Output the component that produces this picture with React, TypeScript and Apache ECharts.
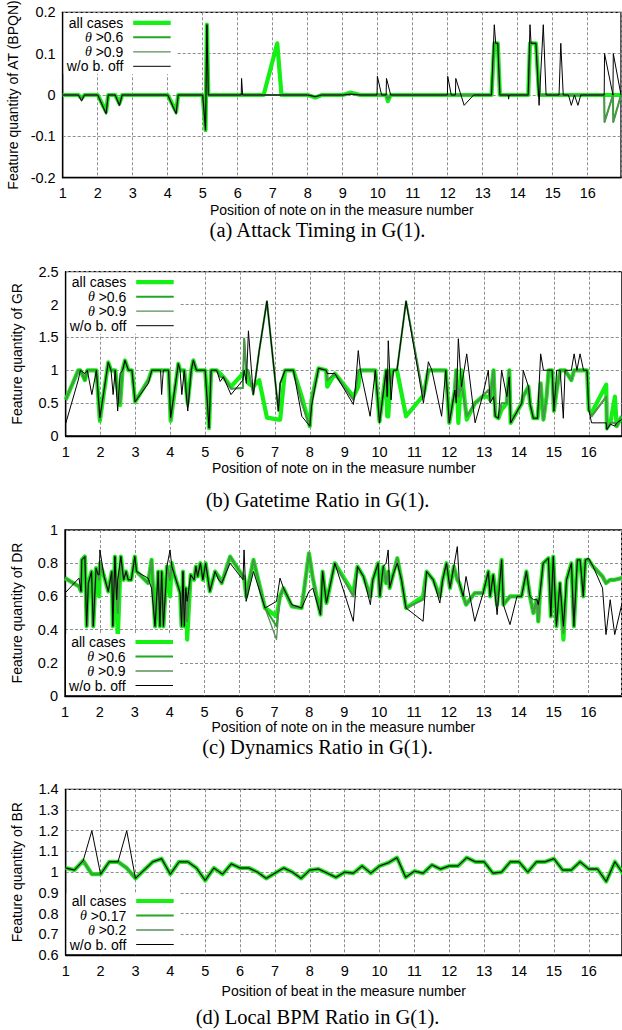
import React, { useEffect, useRef } from "react";
import * as echarts from "echarts";

// ---------- DATA ----------
// columns: [position, all cases, theta>a, theta>b, w/o b. off]
const AT_ROWS: number[][] = [
  [1.0, 0, 0, 0, 0], [1.45, 0, 0, 0, 0], [1.54, -0.008, -0.01, -0.01, -0.015], [1.62, 0, 0, 0, 0],
  [2.0, 0, 0, 0, 0], [2.24, -0.04, -0.045, -0.045, -0.045], [2.3, 0, 0, 0, 0], [2.5, 0, 0, 0, 0],
  [2.62, -0.02, -0.025, -0.025, -0.025], [2.7, 0, 0, 0, 0], [4.0, 0, 0, 0, 0],
  [4.24, -0.04, -0.045, -0.045, -0.045], [4.3, 0, 0, 0, 0], [5.0, 0, 0, 0, 0],
  [5.08, -0.085, -0.085, -0.085, -0.085], [5.12, 0.17, 0.17, 0.17, 0.17], [5.16, 0, 0, 0, 0],
  [6.1, 0, 0, 0, 0], [6.11, 0, 0, 0, 0.04], [6.14, 0, 0, 0, 0], [6.74, 0, 0, 0, 0],
  [7.13, 0.125, 0, 0, 0], [7.25, 0, 0, 0, 0], [8.0, 0, 0, 0, 0], [8.22, -0.006, -0.004, -0.004, -0.004],
  [8.4, 0, 0, 0, 0], [9.0, 0, 0, 0, 0], [9.23, 0.006, 0.003, 0.003, 0.002], [9.5, 0, 0, 0, 0],
  [9.98, 0, 0, 0, 0], [9.99, 0, 0, 0, 0.045], [10.11, 0, 0, 0, 0], [10.24, 0, 0, 0, 0],
  [10.25, 0, 0, 0, 0.04], [10.29, -0.015, -0.01, -0.01, 0.027], [10.37, 0, 0, 0, 0],
  [11.99, 0, 0, 0, 0], [12.0, 0, 0, 0, 0.045], [12.1, 0, 0, 0, 0], [12.22, 0, 0, 0, 0],
  [12.23, 0, 0, 0, 0.04], [12.47, 0, 0, 0, -0.025], [12.74, 0, 0, 0, 0], [13.25, 0, 0, 0, 0],
  [13.33, 0.125, 0.125, 0.125, 0.17], [13.37, 0.125, 0.125, 0.125, 0.125], [13.43, 0.125, 0.125, 0.125, 0.125],
  [13.49, 0, 0, 0, 0], [13.73, 0, 0, 0, 0], [13.74, 0, 0, 0, -0.01], [13.75, 0, 0, 0, 0],
  [14.3, 0, 0, 0, 0], [14.35, 0.125, 0.125, 0.125, 0.17], [14.38, 0.125, 0.125, 0.125, 0.125],
  [14.52, 0.125, 0.125, 0.125, 0.125], [14.61, 0, 0, 0, -0.025], [14.73, 0, 0, 0, 0.17],
  [14.81, 0, 0, 0, 0], [15.18, 0, 0, 0, 0], [15.23, 0, 0, 0, 0.125], [15.3, 0, 0, 0, 0],
  [15.45, 0, 0, 0, 0], [15.53, 0, 0, 0, -0.025], [15.62, 0, 0, 0, 0], [15.72, 0, 0, 0, -0.025],
  [15.8, 0, 0, 0, 0], [16.47, 0, 0, 0, 0], [16.48, 0, -0.065, -0.065, 0.1], [16.72, 0, 0, 0, 0],
  [16.73, 0, -0.065, -0.065, 0.1], [16.95, 0, 0, 0, 0],
];

const GR_ROWS: number[][] = [
  [1.0, 0.55, 0.55, 0.55, 0.19], [1.36, 1.0, 1.0, 1.0, 0.85], [1.42, 1.0, 1.0, 1.0, 1.0],
  [1.55, 0.85, 0.85, 0.9, 0.95], [1.62, 1.0, 1.0, 1.0, 1.0], [1.75, 1.0, 1.0, 1.0, 0.63],
  [1.88, 1.0, 1.0, 1.0, 1.0], [1.98, 0.23, 0.25, 0.25, 0.28], [2.22, 1.12, 1.12, 1.12, 1.12],
  [2.3, 1.0, 1.0, 1.0, 1.0], [2.36, 1.0, 1.0, 1.0, 0.63], [2.42, 1.0, 1.0, 1.0, 1.0],
  [2.49, 0.7, 0.6, 0.6, 0.38], [2.56, 0.47, 0.5, 0.5, 0.95], [2.63, 1.0, 1.0, 1.0, 1.0],
  [2.7, 1.15, 1.15, 1.15, 1.15], [2.8, 1.0, 1.0, 1.0, 1.0], [2.9, 1.0, 1.0, 1.0, 1.0],
  [2.99, 0.52, 0.52, 0.52, 0.52], [3.37, 0.85, 0.85, 0.85, 0.8], [3.47, 1.0, 1.0, 1.0, 1.0],
  [3.72, 1.0, 1.0, 1.0, 1.0], [3.75, 1.0, 1.0, 1.0, 0.63], [3.8, 1.0, 1.0, 1.0, 1.0],
  [3.95, 1.0, 1.0, 1.0, 1.0], [4.01, 0.23, 0.25, 0.25, 0.28], [4.23, 1.1, 1.1, 1.1, 1.1],
  [4.28, 1.0, 1.0, 1.0, 1.0], [4.33, 1.0, 1.0, 1.0, 0.63], [4.4, 1.0, 1.0, 1.0, 1.0],
  [4.5, 0.5, 0.45, 0.45, 0.38], [4.6, 1.0, 1.0, 1.0, 1.0], [4.66, 1.15, 1.15, 1.15, 1.15],
  [4.75, 1.0, 1.0, 1.0, 1.0], [5.0, 1.0, 1.0, 1.0, 1.0], [5.11, 0.12, 0.12, 0.12, 0.12],
  [5.17, 1.0, 1.0, 1.0, 1.0], [5.33, 1.0, 1.0, 1.0, 1.0], [5.43, 0.95, 0.9, 0.9, 0.83],
  [5.52, 0.9, 0.9, 0.9, 0.9], [5.74, 0.75, 0.72, 0.72, 0.63], [6.08, 0.95, 0.73, 0.73, 0.85],
  [6.12, 0.95, 1.48, 1.48, 1.0], [6.18, 1.0, 1.0, 1.0, 0.8], [6.24, 0.8, 1.0, 1.0, 1.6],
  [6.38, 0.75, 0.63, 0.63, 0.63], [6.55, 0.85, 1.3, 1.3, 1.3], [6.77, 0.28, 2.05, 2.05, 2.05],
  [7.1, 0.25, 0.38, 0.38, 0.38], [7.15, 0.25, 0.8, 0.8, 0.8], [7.29, 1.0, 1.0, 1.0, 1.0],
  [7.53, 1.0, 1.0, 1.0, 1.0], [7.77, 0.6, 0.5, 0.5, 0.3], [8.0, 0.15, 0.15, 0.15, 0.15],
  [8.05, 0.55, 0.55, 0.55, 0.45], [8.25, 1.03, 1.03, 1.03, 1.03], [8.47, 1.0, 1.0, 1.0, 1.0],
  [8.5, 0.75, 0.85, 0.85, 0.95], [8.72, 0.95, 0.95, 0.95, 0.95], [9.25, 0.6, 0.55, 0.55, 0.48],
  [9.3, 0.65, 0.65, 0.65, 0.7], [9.39, 0.75, 1.0, 1.0, 1.3], [9.45, 1.0, 1.0, 1.0, 1.0],
  [9.73, 1.0, 1.0, 1.0, 0.3], [9.88, 1.0, 1.0, 1.0, 1.0], [9.94, 0.6, 0.6, 0.6, 0.6],
  [10.0, 0.22, 0.22, 0.22, 0.2], [10.19, 1.0, 1.0, 1.0, 1.0], [10.22, 0.3, 0.6, 0.6, 0.6],
  [10.25, 0.3, 1.0, 1.0, 1.45], [10.33, 1.0, 0.8, 0.8, 0.55], [10.4, 1.0, 1.0, 1.0, 1.0],
  [10.5, 1.0, 1.0, 1.0, 1.0], [10.76, 0.3, 2.05, 2.05, 2.05], [11.26, 0.62, 0.6, 0.6, 0.5],
  [11.4, 1.0, 1.0, 1.0, 1.13], [11.5, 1.0, 1.0, 1.0, 1.0], [11.78, 1.0, 1.0, 1.0, 0.3],
  [11.9, 1.0, 1.0, 1.0, 1.0], [12.0, 0.2, 0.2, 0.2, 0.2], [12.16, 0.7, 0.7, 0.7, 0.7],
  [12.2, 1.0, 1.0, 1.0, 0.5], [12.26, 0.2, 0.6, 0.6, 1.48], [12.35, 1.0, 0.8, 0.8, 0.75],
  [12.5, 0.25, 0.3, 0.3, 1.25], [12.74, 0.5, 0.5, 0.5, 0.2], [12.95, 0.6, 0.6, 0.6, 0.6],
  [13.12, 0.6, 0.7, 0.7, 1.0], [13.17, 0.55, 0.55, 0.55, 0.5], [13.27, 1.0, 1.0, 1.0, 0.6],
  [13.32, 0.3, 0.3, 0.3, 0.3], [13.41, 0.27, 0.27, 0.27, 0.27], [13.5, 0.4, 0.5, 0.5, 1.0],
  [13.65, 0.5, 0.5, 0.5, 0.6], [13.72, 1.0, 1.0, 1.0, 0.9], [13.76, 0.2, 0.2, 0.2, 0.2],
  [14.08, 0.5, 0.5, 0.5, 0.5], [14.12, 0.6, 0.6, 0.6, 1.0], [14.27, 0.75, 0.75, 0.75, 0.75],
  [14.32, 0.48, 0.48, 0.48, 0.48], [14.41, 0.27, 0.27, 0.27, 0.27], [14.53, 0.27, 0.27, 0.27, 0.27],
  [14.62, 0.8, 0.8, 0.8, 1.25], [14.7, 0.25, 0.25, 0.25, 1.0], [14.79, 0.6, 0.6, 0.6, 1.0],
  [14.85, 1.0, 1.0, 1.0, 1.0], [14.95, 1.0, 1.0, 1.0, 1.0], [15.0, 0.38, 0.38, 0.38, 0.38],
  [15.08, 0.7, 0.7, 0.7, 1.0], [15.18, 1.0, 1.0, 1.0, 1.0], [15.27, 1.0, 1.0, 1.0, 0.27],
  [15.32, 1.0, 1.0, 1.0, 1.0], [15.5, 0.85, 0.85, 0.85, 1.0], [15.58, 1.0, 1.0, 1.0, 1.25],
  [15.66, 1.0, 1.0, 1.0, 1.0], [15.75, 1.0, 1.0, 1.0, 1.25], [15.85, 1.0, 1.0, 1.0, 1.0],
  [15.95, 1.0, 1.0, 1.0, 1.0], [16.0, 0.4, 0.4, 0.4, 0.4], [16.08, 0.35, 0.3, 0.3, 0.2],
  [16.5, 0.78, 0.6, 0.6, 0.2], [16.52, 0.12, 0.1, 0.1, 0.1], [16.62, 0.2, 0.2, 0.2, 0.18],
  [16.75, 0.6, 0.2, 0.2, 0.15], [16.8, 0.15, 0.15, 0.15, 0.2], [16.95, 0.3, 0.3, 0.3, 0.25],
];

const DR_ROWS: number[][] = [
  [1.0, 0.71, 0.71, 0.71, 0.62], [1.4, 0.66, 0.66, 0.66, 0.71], [1.46, 0.63, 0.63, 0.63, 0.63],
  [1.48, 0.82, 0.82, 0.82, 0.82], [1.57, 0.84, 0.84, 0.84, 0.84], [1.62, 0.42, 0.42, 0.42, 0.42],
  [1.67, 0.68, 0.68, 0.68, 0.68], [1.76, 0.75, 0.75, 0.75, 0.75], [1.81, 0.42, 0.42, 0.42, 0.42],
  [1.89, 0.77, 0.77, 0.77, 0.77], [1.95, 0.73, 0.73, 0.73, 0.73], [1.98, 0.6, 0.7, 0.7, 0.73],
  [2.0, 0.8, 0.8, 0.8, 0.88], [2.12, 0.72, 0.72, 0.72, 0.72], [2.24, 0.63, 0.63, 0.63, 0.63],
  [2.34, 0.75, 0.75, 0.75, 0.75], [2.37, 0.42, 0.42, 0.42, 0.42], [2.43, 0.84, 0.84, 0.84, 0.84],
  [2.48, 0.6, 0.6, 0.6, 0.58], [2.51, 0.34, 0.5, 0.5, 0.7], [2.6, 0.84, 0.84, 0.84, 0.84],
  [2.68, 0.7, 0.7, 0.7, 0.7], [2.75, 0.75, 0.75, 0.75, 0.75], [2.81, 0.7, 0.7, 0.7, 0.7],
  [2.9, 0.7, 0.7, 0.7, 0.7], [3.0, 0.84, 0.84, 0.84, 0.84], [3.05, 0.75, 0.75, 0.75, 0.75],
  [3.38, 0.68, 0.68, 0.68, 0.71], [3.48, 0.82, 0.82, 0.82, 0.65], [3.58, 0.42, 0.42, 0.42, 0.42],
  [3.67, 0.75, 0.75, 0.75, 0.75], [3.72, 0.42, 0.42, 0.42, 0.42], [3.77, 0.75, 0.75, 0.75, 0.75],
  [3.82, 0.42, 0.42, 0.42, 0.42], [3.92, 0.78, 0.78, 0.78, 0.78], [4.01, 0.6, 0.7, 0.7, 0.88],
  [4.06, 0.8, 0.8, 0.8, 0.78], [4.12, 0.74, 0.74, 0.74, 0.74], [4.3, 0.62, 0.62, 0.62, 0.62],
  [4.34, 0.42, 0.42, 0.42, 0.42], [4.38, 0.75, 0.75, 0.75, 0.75], [4.42, 0.42, 0.42, 0.42, 0.42],
  [4.46, 0.65, 0.65, 0.65, 0.65], [4.5, 0.34, 0.45, 0.45, 0.57], [4.6, 0.73, 0.73, 0.73, 0.73],
  [4.7, 0.7, 0.7, 0.7, 0.7], [4.75, 0.78, 0.78, 0.78, 0.78], [4.8, 0.72, 0.72, 0.72, 0.72],
  [4.88, 0.8, 0.8, 0.8, 0.8], [4.95, 0.7, 0.7, 0.7, 0.7], [5.03, 0.8, 0.8, 0.8, 0.8],
  [5.15, 0.63, 0.63, 0.63, 0.63], [5.3, 0.75, 0.75, 0.75, 0.75], [5.4, 0.72, 0.72, 0.72, 0.7],
  [5.49, 0.68, 0.68, 0.68, 0.68], [5.73, 0.84, 0.84, 0.84, 0.8], [6.1, 0.72, 0.72, 0.72, 0.7],
  [6.13, 0.72, 0.72, 0.72, 0.88], [6.19, 0.6, 0.6, 0.6, 0.57], [6.4, 0.82, 0.82, 0.82, 0.75],
  [6.73, 0.53, 0.53, 0.53, 0.53], [7.06, 0.48, 0.42, 0.34, 0.57], [7.16, 0.6, 0.6, 0.6, 0.71],
  [7.26, 0.65, 0.65, 0.65, 0.65], [7.5, 0.54, 0.54, 0.54, 0.55], [7.78, 0.53, 0.53, 0.53, 0.53],
  [7.99, 0.86, 0.86, 0.86, 0.63], [8.1, 0.71, 0.71, 0.71, 0.65], [8.32, 0.49, 0.49, 0.49, 0.49],
  [8.38, 0.75, 0.75, 0.75, 0.75], [8.49, 0.56, 0.56, 0.56, 0.56], [8.73, 0.8, 0.8, 0.8, 0.8],
  [9.26, 0.62, 0.6, 0.6, 0.45], [9.38, 0.78, 0.78, 0.78, 0.78], [9.55, 0.72, 0.72, 0.72, 0.72],
  [9.75, 0.6, 0.6, 0.6, 0.55], [9.82, 0.7, 0.7, 0.7, 0.7], [9.97, 0.8, 0.8, 0.8, 0.8],
  [10.02, 0.6, 0.6, 0.6, 0.6], [10.12, 0.78, 0.78, 0.78, 0.78], [10.2, 0.68, 0.68, 0.68, 0.8],
  [10.26, 0.75, 0.75, 0.75, 0.88], [10.3, 0.65, 0.65, 0.65, 0.65], [10.4, 0.73, 0.73, 0.73, 0.73],
  [10.52, 0.83, 0.83, 0.83, 0.8], [10.64, 0.7, 0.7, 0.7, 0.7], [10.77, 0.53, 0.53, 0.53, 0.53],
  [11.26, 0.6, 0.58, 0.58, 0.45], [11.36, 0.75, 0.75, 0.75, 0.75], [11.55, 0.7, 0.7, 0.7, 0.7],
  [11.74, 0.6, 0.6, 0.6, 0.56], [11.82, 0.7, 0.7, 0.7, 0.7], [11.93, 0.8, 0.8, 0.8, 0.8],
  [12.03, 0.65, 0.65, 0.65, 0.65], [12.14, 0.78, 0.78, 0.78, 0.78], [12.24, 0.7, 0.7, 0.7, 0.9],
  [12.3, 0.68, 0.68, 0.68, 0.68], [12.41, 0.6, 0.6, 0.6, 0.6], [12.49, 0.55, 0.55, 0.55, 0.72],
  [12.74, 0.62, 0.62, 0.62, 0.45], [12.98, 0.62, 0.62, 0.62, 0.62], [13.13, 0.75, 0.75, 0.75, 0.75],
  [13.18, 0.6, 0.6, 0.6, 0.6], [13.27, 0.73, 0.73, 0.73, 0.73], [13.38, 0.55, 0.55, 0.55, 0.49],
  [13.51, 0.82, 0.82, 0.82, 0.82], [13.56, 0.55, 0.55, 0.55, 0.55], [13.75, 0.6, 0.6, 0.6, 0.43],
  [13.95, 0.6, 0.6, 0.6, 0.6], [14.08, 0.6, 0.6, 0.6, 0.6], [14.22, 0.75, 0.75, 0.75, 0.75],
  [14.32, 0.6, 0.6, 0.6, 0.6], [14.42, 0.5, 0.5, 0.5, 0.58], [14.52, 0.58, 0.58, 0.58, 0.58],
  [14.56, 0.45, 0.45, 0.45, 0.55], [14.61, 0.62, 0.62, 0.62, 0.62], [14.7, 0.8, 0.8, 0.8, 0.8],
  [14.85, 0.83, 0.83, 0.83, 0.83], [14.92, 0.48, 0.48, 0.48, 0.48], [14.99, 0.84, 0.84, 0.84, 0.84],
  [15.08, 0.42, 0.42, 0.42, 0.42], [15.18, 0.68, 0.68, 0.68, 0.68], [15.28, 0.34, 0.38, 0.38, 0.42],
  [15.37, 0.7, 0.7, 0.7, 0.7], [15.51, 0.8, 0.8, 0.8, 0.8], [15.58, 0.42, 0.42, 0.42, 0.42],
  [15.68, 0.82, 0.82, 0.82, 0.82], [15.76, 0.82, 0.82, 0.82, 0.82], [15.85, 0.6, 0.6, 0.6, 0.6],
  [15.91, 0.82, 0.82, 0.82, 0.82], [16.0, 0.82, 0.82, 0.82, 0.83], [16.13, 0.78, 0.78, 0.78, 0.78],
  [16.4, 0.72, 0.72, 0.72, 0.65], [16.5, 0.68, 0.68, 0.68, 0.37], [16.62, 0.7, 0.7, 0.7, 0.58],
  [16.75, 0.7, 0.7, 0.7, 0.37], [16.95, 0.71, 0.71, 0.71, 0.55],
];

const BR_ROWS: number[][] = [
  [1.0, 1.02, 1.02, 1.02, 1.02], [1.25, 1.01, 1.01, 1.01, 1.01], [1.5, 1.055, 1.055, 1.055, 1.055],
  [1.75, 0.99, 0.99, 0.99, 1.2], [2.0, 0.99, 0.99, 0.99, 0.99], [2.25, 1.05, 1.05, 1.05, 1.05],
  [2.5, 1.05, 1.05, 1.05, 1.05], [2.75, 1.02, 1.02, 1.02, 1.2], [3.0, 0.97, 0.97, 0.97, 0.97],
  [3.25, 1.01, 1.01, 1.01, 1.01], [3.5, 1.05, 1.05, 1.05, 1.05], [3.75, 1.065, 1.065, 1.065, 1.065],
  [4.0, 0.99, 0.99, 0.99, 0.99], [4.25, 1.05, 1.05, 1.05, 1.05], [4.5, 1.05, 1.05, 1.05, 1.05],
  [4.75, 1.02, 1.02, 1.02, 1.02], [5.0, 0.96, 0.96, 0.96, 0.96], [5.25, 1.02, 1.02, 1.02, 1.02],
  [5.5, 0.99, 0.99, 0.99, 0.99], [5.75, 1.04, 1.04, 1.04, 1.04], [6.0, 1.02, 1.02, 1.02, 1.02],
  [6.25, 1.02, 1.02, 1.02, 1.02], [6.5, 1.0, 1.0, 1.0, 1.0], [6.75, 0.97, 0.97, 0.97, 0.97],
  [7.0, 0.995, 0.995, 0.995, 0.995], [7.25, 1.02, 1.02, 1.02, 1.02], [7.5, 1.0, 1.0, 1.0, 1.0],
  [7.75, 0.97, 0.97, 0.97, 0.97], [8.0, 1.01, 1.01, 1.01, 1.01], [8.25, 1.015, 1.015, 1.015, 1.015],
  [8.5, 0.995, 0.995, 0.995, 0.995], [8.75, 0.975, 0.975, 0.975, 0.975], [9.0, 1.0, 1.0, 1.0, 1.0],
  [9.25, 0.995, 0.995, 0.995, 0.995], [9.5, 1.03, 1.03, 1.03, 1.03], [9.75, 0.995, 0.995, 0.995, 0.995],
  [10.0, 1.03, 1.03, 1.03, 1.03], [10.25, 1.045, 1.045, 1.045, 1.045], [10.5, 1.07, 1.07, 1.07, 1.07],
  [10.75, 0.975, 0.975, 0.975, 0.975], [11.0, 1.005, 1.005, 1.005, 1.005], [11.25, 0.995, 0.995, 0.995, 0.995],
  [11.5, 1.035, 1.035, 1.035, 1.035], [11.75, 1.015, 1.015, 1.015, 1.015], [12.0, 1.03, 1.03, 1.03, 1.03],
  [12.25, 1.03, 1.03, 1.03, 1.03], [12.5, 1.07, 1.07, 1.07, 1.07], [12.75, 1.05, 1.05, 1.05, 1.05],
  [13.0, 1.05, 1.05, 1.05, 1.05], [13.25, 0.995, 0.995, 0.995, 0.995], [13.5, 1.0, 1.0, 1.0, 1.0],
  [13.75, 1.05, 1.05, 1.05, 1.05], [14.0, 1.05, 1.05, 1.05, 1.05], [14.25, 1.0, 1.0, 1.0, 1.0],
  [14.5, 1.05, 1.05, 1.05, 1.05], [14.75, 1.05, 1.05, 1.05, 1.05], [15.0, 1.065, 1.065, 1.065, 1.065],
  [15.25, 1.01, 1.01, 1.01, 1.01], [15.5, 1.01, 1.01, 1.01, 1.01], [15.75, 1.05, 1.05, 1.05, 1.05],
  [16.0, 1.015, 1.015, 1.015, 1.015], [16.25, 1.015, 1.015, 1.015, 1.015], [16.5, 0.955, 0.955, 0.955, 0.955],
  [16.75, 1.05, 1.05, 1.05, 1.05], [17.0, 0.99, 0.99, 0.99, 0.99],
];

const LEGEND_NOTE = ["all cases", "θ|0.6", "θ|0.9", "w/o b. off"];
const LEGEND_BEAT = ["all cases", "θ|0.17", "θ|0.2", "w/o b. off"];

const X_TICK_MIN = 1;
const X_TICK_MAX = 16.95;

// ---------- STYLE ----------
const SANS = "Liberation Sans";
const SERIF = "Liberation Serif";
const SERIES_STYLE = [
  { color: "#14f014", width: 4.2 },
  { color: "#22a822", width: 2 },
  { color: "#5a8f5a", width: 1.3 },
  { color: "#000000", width: 1 },
];

const PANELS = [
  {
    rows: AT_ROWS, yMin: -0.2, yMax: 0.2, yInt: 0.1,
    yName: "Feature quantity of AT (BPQN)", xName: "Position of note on in the measure number",
    caption: "(a) Attack Timing in G(1).", legend: LEGEND_NOTE, legendPos: "top",
    grid: { left: 62.7, top: 12.3, width: 558.3, height: 165.4 }, nameGap: 25, captionY: 230,
  },
  {
    rows: GR_ROWS, yMin: 0, yMax: 2.5, yInt: 0.5,
    yName: "Feature quantity of GR", xName: "Position of note on in the measure number",
    caption: "(b) Gatetime Ratio in G(1).", legend: LEGEND_NOTE, legendPos: "top",
    grid: { left: 65.7, top: 271.7, width: 556.2, height: 164.3 }, nameGap: 25, captionY: 500,
  },
  {
    rows: DR_ROWS, yMin: 0, yMax: 1, yInt: 0.2,
    yName: "Feature quantity of DR", xName: "Position of note on in the measure number",
    caption: "(c) Dynamics Ratio in G(1).", legend: LEGEND_NOTE, legendPos: "bottom",
    grid: { left: 65, top: 530, width: 556.7, height: 166 }, nameGap: 23, captionY: 747,
  },
  {
    rows: BR_ROWS, yMin: 0.6, yMax: 1.4, yInt: 0.1,
    yName: "Feature quantity of BR", xName: "Position of beat in the measure number",
    caption: "(d) Local BPM Ratio in G(1).", legend: LEGEND_BEAT, legendPos: "bottom",
    grid: { left: 65.7, top: 789.3, width: 556.2, height: 165.7 }, nameGap: 29, captionY: 1017,
  },
];

function buildOption() {
  const grid: any[] = [];
  const xAxis: any[] = [];
  const yAxis: any[] = [];
  const series: any[] = [];
  const graphic: any[] = [];

  PANELS.forEach((p, i) => {
    grid.push({
      ...p.grid, show: true, borderColor: "#000", borderWidth: 1.3,
      backgroundColor: "rgba(0,0,0,0)", containLabel: false, outerBoundsMode: "none",
    });
    const mkSplit = () => ({ show: true, lineStyle: { color: "#8f8f8f", type: [3, 2], width: 1 } });
    xAxis.push({
      type: "value", gridIndex: i, min: X_TICK_MIN, max: X_TICK_MAX, interval: 1, z: 1,
      axisLine: { show: true, onZero: false, lineStyle: { color: "#000", width: 1.3 } },
      axisTick: { show: false },
      axisLabel: {
        color: "#000", fontFamily: SANS, fontSize: 14.5, margin: 8,
        formatter: (v: number) => (Math.abs(v - Math.round(v)) < 1e-6 ? String(Math.round(v)) : ""),
      },
      splitLine: mkSplit(),
      name: p.xName, nameLocation: "middle", nameGap: p.nameGap,
      nameTextStyle: { color: "#000", fontFamily: SANS, fontSize: 14 },
    });
    yAxis.push({
      type: "value", gridIndex: i, min: p.yMin, max: p.yMax, interval: p.yInt, z: 1,
      axisLine: { show: true, onZero: false, lineStyle: { color: "#000", width: 1.3 } },
      axisTick: { show: false },
      axisLabel: { color: "#000", fontFamily: SANS, fontSize: 14.5, margin: 7 },
      splitLine: mkSplit(),
      name: p.yName, nameLocation: "middle", nameGap: p.grid.left - 24,
      nameTextStyle: { color: "#000", fontFamily: SANS, fontSize: 14 },
    });
    SERIES_STYLE.forEach((s, k) => {
      series.push({
        type: "line", xAxisIndex: i, yAxisIndex: i, name: `${i}-${k}`,
        data: p.rows.map((r) => [r[0], r[k + 1]]),
        symbol: "none", showSymbol: false, silent: true, clip: true,
        lineStyle: { color: s.color, width: s.width, join: "round" },
        z: 3 + k,
      });
    });

    // legend (gnuplot-style key with opaque box)
    const g = p.grid;
    const bottom = g.top + g.height;
    const offsets = p.legendPos === "top"
      ? [10.5, 25, 39.5, 54].map((o) => g.top + o)
      : [-54, -39.5, -25, -10.5].map((o) => bottom + o);
    const boxY = p.legendPos === "top" ? g.top + 1 : bottom - 62;
    graphic.push({
      type: "rect", z: 20, silent: true,
      shape: { x: g.left + 1, y: boxY, width: 113, height: 61 },
      style: { fill: "#ffffff" },
    });
    p.legend.forEach((lab, k) => {
      const y = offsets[k];
      const parts = lab.split("|");
      const text = parts.length === 2 ? `{i|θ} >${parts[1]}` : lab;
      graphic.push({
        type: "text", z: 21, silent: true, x: g.left + 60.6, y,
        style: {
          text, align: "right", verticalAlign: "middle", fill: "#000",
          fontFamily: SANS, fontSize: 14, lineHeight: 13,
          rich: { i: { fontFamily: SERIF, fontStyle: "italic", fontSize: 14, lineHeight: 13, fill: "#000" } },
        },
      });
      graphic.push({
        type: "line", z: 21, silent: true,
        shape: { x1: g.left + 70.5, y1: y, x2: g.left + 108, y2: y },
        style: { stroke: SERIES_STYLE[k].color, lineWidth: SERIES_STYLE[k].width },
      });
    });

    graphic.push({
      type: "text", z: 21, silent: true, x: 317.5, y: p.captionY,
      style: {
        text: p.caption, align: "center", verticalAlign: "middle", fill: "#000",
        fontFamily: SERIF, fontSize: 20.5,
      },
    });
  });

  return { animation: false, backgroundColor: "#fff", grid, xAxis, yAxis, series, graphic };
}

export default function App() {
  const ref = useRef<HTMLDivElement>(null);
  useEffect(() => {
    document.body.style.margin = "0";
    if (!ref.current) return;
    const chart = echarts.init(ref.current, undefined, { renderer: "svg" });
    chart.setOption(buildOption() as any);
    return () => chart.dispose();
  }, []);
  return <div ref={ref} style={{ width: 622, height: 1030 }} />;
}
